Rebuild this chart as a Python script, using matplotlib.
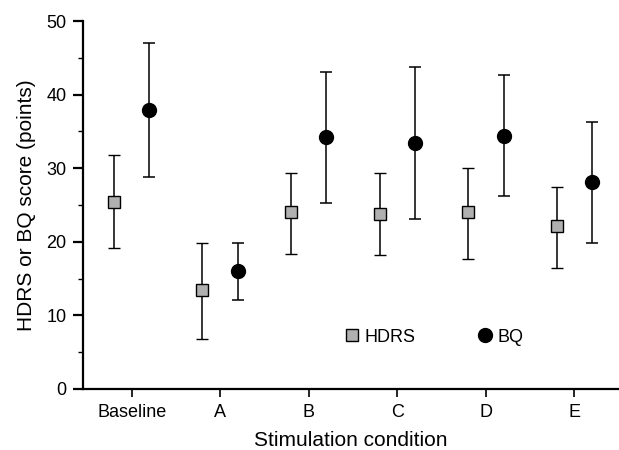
import matplotlib
matplotlib.use("Agg")
import matplotlib.pyplot as plt
from matplotlib.lines import Line2D
import numpy as np

categories = ["Baseline", "A", "B", "C", "D", "E"]
hdrs_mean = [25.4, 13.4, 24.0, 23.8, 24.0, 22.1]
hdrs_low = [19.1, 6.8, 18.4, 18.2, 17.7, 16.5]
hdrs_high = [31.8, 19.9, 29.4, 29.3, 30.0, 27.5]
bq_mean = [37.9, 16.0, 34.2, 33.5, 34.4, 28.1]
bq_low = [28.8, 12.1, 25.3, 23.1, 26.2, 19.8]
bq_high = [47.0, 19.9, 43.1, 43.8, 42.7, 36.3]

plt.rcParams['font.family'] = ['Liberation Sans', 'DejaVu Sans']
plt.rcParams['font.size'] = 13

fig = plt.figure(figsize=(6.19, 4.5), dpi=100)
ax = fig.add_axes([0.134, 0.1356, 0.864, 0.8174])

x = np.arange(len(categories))
off = 0.2
hm = np.array(hdrs_mean); bm = np.array(bq_mean)
h_err = [hm - np.array(hdrs_low), np.array(hdrs_high) - hm]
b_err = [bm - np.array(bq_low), np.array(bq_high) - bm]

ax.errorbar(x - off, hm, yerr=h_err, fmt='s', ms=8.5, mfc='#b0b0b0', mec='black',
            mew=1.0, ecolor='black', elinewidth=1.1, capsize=4, capthick=1.1,
            color='black', label='HDRS', zorder=3)
ax.errorbar(x + off, bm, yerr=b_err, fmt='o', ms=10, mfc='black', mec='black',
            ecolor='black', elinewidth=1.1, capsize=4, capthick=1.1,
            color='black', label='BQ', zorder=3)

ax.set_xlim(-0.55, 5.49)
ax.set_ylim(0, 50)
ax.set_xticks(x)
ax.set_xticklabels(categories)
ax.set_yticks([0, 10, 20, 30, 40, 50])
ax.set_yticks([5, 15, 25, 35, 45], minor=True)

for s in ['top', 'right']:
    ax.spines[s].set_visible(False)
for s in ['left', 'bottom']:
    ax.spines[s].set_linewidth(1.6)

ax.tick_params(axis='y', which='major', length=7, width=1.6, pad=5)
ax.tick_params(axis='y', which='minor', length=3.5, width=1.0)
ax.tick_params(axis='x', which='major', length=6, width=1.2, pad=5)

ax.set_xlabel("Stimulation condition", fontsize=15, labelpad=7)
ax.set_ylabel("HDRS or BQ score (points)", fontsize=15, labelpad=7)

h1 = Line2D([], [], marker='s', ls='none', ms=8.5, mfc='#b0b0b0', mec='black', mew=1.0)
h2 = Line2D([], [], marker='o', ls='none', ms=10, mfc='black', mec='black')
ax.legend([h1, h2], ['HDRS', 'BQ'], ncol=2, frameon=False, loc='center',
          bbox_to_anchor=(0.656, 0.141), handlelength=0.8, handletextpad=0.3,
          columnspacing=3.45, fontsize=13)

fig.savefig("out.png", dpi=100)
